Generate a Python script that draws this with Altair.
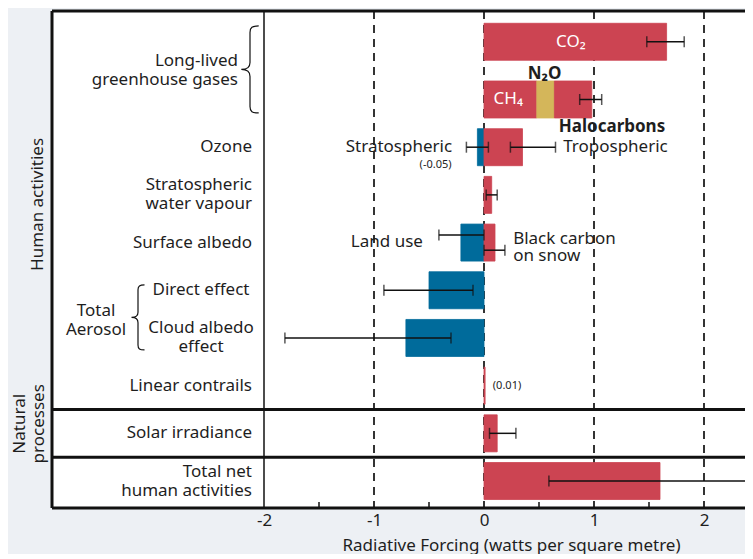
import altair as alt
import pandas as pd

# ---------------- data ----------------
# bar segments (W m-2), one entry per coloured segment
bar_row = [0, 1, 1, 1, 2, 2, 3, 4, 4, 5, 6, 7, 8, 9]
bar_name = ["CO2", "CH4", "N2O", "Halocarbons", "Stratospheric ozone",
            "Tropospheric ozone", "Stratospheric water vapour", "Land use",
            "Black carbon on snow", "Aerosol direct effect",
            "Cloud albedo effect", "Linear contrails", "Solar irradiance",
            "Total net human activities"]
bar_value = [1.66, 0.48, 0.16, 0.34, -0.06, 0.35, 0.07, -0.21, 0.10,
             -0.50, -0.71, 0.01, 0.12, 1.60]

# uncertainty ranges
err_row = [0, 1, 2, 2, 3, 4, 4, 5, 6, 8, 9]
err_lo = [1.48, 0.87, -0.16, 0.24, 0.02, -0.41, 0.00, -0.91, -1.81, 0.05, 0.59]
err_hi = [1.82, 1.07, 0.04, 0.65, 0.12, 0.00, 0.19, -0.10, -0.30, 0.29, 2.39]
err_lane = [0, 0, 0, 0, 0, -1, 1, 0, 0, 0, 0]

# row labels on the left
row_label = ["Ozone", "Stratospheric\nwater vapour", "Surface albedo",
             "Linear contrails", "Solar irradiance", "Total net\nhuman activities"]
row_label_row = [2, 3, 4, 7, 8, 9]
aerosol_label = ["Direct effect", "Cloud albedo\neffect"]
aerosol_label_row = [5, 6]

group_name = ["Human activities", "Natural\nprocesses"]
group_last_row = [7, 8]

tick_values = [-2, -1, 0, 1, 2]
minor_ticks = [-1.5, -0.5, 0.5, 1.5]

# ---------------- layout / style ----------------
W, H = 693, 497
PX = 110.0
ROWPX = 47.69
LH = 19
XMIN = -2 - 212 / PX
XMAX = XMIN + W / PX
FONT = "Noto Sans"
FS = 17
RED, BLUE, GOLD = "#cc4452", "#006b9b", "#d4b65a"
INK = "#1e1e1e"
BG = "#edf0f4"

xscale = alt.Scale(domain=[XMIN, XMAX], nice=False, zero=False, padding=0)
yscale = alt.Scale(domain=[-0.8557, 9.5657], reverse=True, nice=False, zero=False,
                   padding=0)
SHIFT = "(datum.row == 0 ? -0.21 : datum.row)"


def X(f, axis=None):
    if axis is None:
        return alt.X(f, type="quantitative", scale=xscale)
    return alt.X(f, type="quantitative", scale=xscale, axis=axis)


def Y(f="yy"):
    return alt.Y(f, type="quantitative", scale=yscale, axis=None)


# bars: stack positives and negatives from zero within each row
starts, ends, kinds = [], [], []
pos_acc, neg_acc = {}, {}
for r, n, v in zip(bar_row, bar_name, bar_value):
    if v >= 0:
        s = pos_acc.get(r, 0.0)
        pos_acc[r] = s + v
    else:
        s = neg_acc.get(r, 0.0)
        neg_acc[r] = s + v
    starts.append(s)
    ends.append(s + v)
    kinds.append("N2O" if n == "N2O" else ("neg" if v < 0 else "pos"))
bars = pd.DataFrame({"row": bar_row, "name": bar_name, "start": starts,
                     "end": ends, "kind": kinds})
errs = pd.DataFrame({"row": err_row, "lo": err_lo, "hi": err_hi, "lane": err_lane})

colour = alt.Scale(domain=["pos", "neg", "N2O"], range=[RED, BLUE, GOLD])

one = pd.DataFrame({"a": [0]})

dashed = alt.Chart(pd.DataFrame({"v": tick_values[1:]})).mark_rule(
    strokeDash=[8, 6], strokeWidth=2, color="#333333"
).encode(
    x=X("v", axis=alt.Axis(values=tick_values, domain=False, ticks=False, grid=False,
                           labelFont=FONT, labelFontSize=FS, labelColor=INK,
                           labelPadding=4, labelExpr="'' + datum.value",
                           labelFlush=False, labelOverlap=False,
                           title="Radiative Forcing (watts per square metre)",
                           titleFont=FONT, titleFontSize=FS, titleFontWeight="normal",
                           titleColor=INK, titleX=459, titleY=42,
                           titleAlign="center", titleBaseline="alphabetic")),
    y=alt.value(0), y2=alt.value(H),
)

minus2 = alt.Chart(pd.DataFrame({"v": tick_values[:1]})).mark_rule(
    strokeWidth=1.5, color="#111111"
).encode(x=X("v"), y=alt.value(0), y2=alt.value(H))

minor = alt.Chart(pd.DataFrame({"v": minor_ticks})).mark_rule(
    strokeWidth=1.5, color="#111111"
).encode(x=X("v"), y=alt.value(H - 6), y2=alt.value(H))

bar_layer = alt.Chart(bars).transform_calculate(yy=SHIFT).mark_bar(
    size=37, orient="horizontal", strokeWidth=0.8
).encode(
    x=X("start"), x2="end", y=Y(),
    color=alt.Color("kind:N", scale=colour, legend=None),
    stroke=alt.Color("kind:N", scale=colour, legend=None),
)

err_base = alt.Chart(errs).transform_calculate(
    yy=SHIFT + " + datum.lane * 0.16")
err_rule = err_base.mark_rule(strokeWidth=1.5, color="#111111").encode(
    x=X("lo"), x2="hi", y=Y())
err_caps = err_base.transform_fold(["lo", "hi"], as_=["end", "val"]).mark_tick(
    orient="vertical", size=11, thickness=1.5, color="#111111"
).encode(x=X("val"), y=Y())

frame_h = alt.Chart(pd.DataFrame({"p": [0, H]})).mark_rule(
    strokeWidth=3, color="#111111"
).encode(x=alt.value(0), x2=alt.value(W), y=alt.Y("p:Q", scale=None))
frame_l = alt.Chart(one).mark_rule(strokeWidth=3, color="#111111").encode(
    x=alt.value(0), y=alt.value(0), y2=alt.value(H))
seps = alt.Chart(pd.DataFrame({"row": group_last_row})).transform_calculate(
    yy="datum.row + 0.5").mark_rule(strokeWidth=3, color="#111111").encode(
    x=alt.value(0), x2=alt.value(W), y=Y())


def left_text(rows, texts, xpix, align):
    # multi-line texts are anchored on their first line: lift them by half a line
    df = pd.DataFrame({"row": rows, "t": texts})
    return alt.Chart(df).transform_calculate(
        yy="datum.row - (indexof(datum.t, '\\n') >= 0 ? %f : 0)" % (LH / 2 / ROWPX)
    ).mark_text(
        align=align, baseline="middle", font=FONT, fontSize=FS, color=INK,
        lineBreak="\n", lineHeight=LH
    ).encode(x=alt.value(xpix), y=Y(), text="t:N")


lab = left_text(row_label_row, row_label, 200, "right")
lab_ll = left_text([0.395], ["Long-lived\ngreenhouse gases"], 186, "right")
aer = left_text(aerosol_label_row, aerosol_label, 149, "center")
aer_total = left_text([5.63], ["Total\nAerosol"], 44, "center")

brace_path = ("M 0.2 -1 C 0.05 -1 0 -0.97 0 -0.85 L 0 -0.16 C 0 -0.05 -0.06 0 -0.2 0 "
              "C -0.06 0 0 0.05 0 0.16 L 0 0.85 C 0 0.97 0.05 1 0.2 1")
braces = alt.Chart(pd.DataFrame({"row": [0.37, 5.57], "x": [198, 86],
                                 "s": [87 ** 2, 65 ** 2]})).mark_point(
    shape=brace_path, filled=False, stroke="#111111", strokeWidth=1.2, opacity=1
).encode(x=alt.X("x:Q", scale=None), y=alt.Y("row:Q", scale=yscale, axis=None),
         size=alt.Size("s:Q", scale=None))

groups = alt.Chart(pd.DataFrame({"row": [3.2, 7.8], "t": group_name,
                                 "x": [-14.5, -32]})).mark_text(
    angle=270, align="center", baseline="middle", font=FONT, fontSize=FS,
    color=INK, lineBreak="\n", lineHeight=LH
).encode(x=alt.X("x:Q", scale=None), y=alt.Y("row:Q", scale=yscale, axis=None),
         text="t:N")


def ann(df, align, color=INK, size=FS, weight="normal"):
    return alt.Chart(pd.DataFrame(df)).transform_calculate(
        yy=SHIFT + " + datum.dy / %f" % ROWPX).mark_text(
        align=align, baseline="middle", font=FONT, fontSize=size, color=color,
        fontWeight=weight, lineBreak="\n", lineHeight=17
    ).encode(x=X("x"), y=Y(), text="t:N")


ann_white = ann({"t": ["CO\u2082", "CH\u2084"], "x": [0.79, 0.22], "row": [0, 1],
                 "dy": [0, 0]}, "center", color="white")
ann_bold_c = ann({"t": ["N\u2082O"], "x": [0.55], "row": [1], "dy": [-25]},
                 "center", weight="bold")
ann_bold_l = ann({"t": ["Halocarbons"], "x": [0.68], "row": [1], "dy": [28]},
                 "left", weight="bold")
ann_right = ann({"t": ["Stratospheric", "Land use"], "x": [-0.29, -0.555],
                 "row": [2, 4], "dy": [0, -1]}, "right")
ann_left = ann({"t": ["Tropospheric", "Black carbon\non snow"], "x": [0.72, 0.265],
                "row": [2, 4], "dy": [0, -4]}, "left")
ann_small_c = ann({"t": ["(-0.05)"], "x": [-0.44], "row": [2], "dy": [18]},
                  "center", size=11)
ann_small_l = ann({"t": ["(0.01)"], "x": [0.08], "row": [7], "dy": [0]},
                  "left", size=11)

chart = alt.layer(
    dashed, minus2, minor, bar_layer, err_rule, err_caps,
    frame_h, frame_l, seps, lab, lab_ll, aer, aer_total, braces, groups,
    ann_white, ann_bold_c, ann_bold_l, ann_right, ann_left, ann_small_c, ann_small_l,
).properties(
    width=W, height=H, background=BG,
    padding={"left": 44, "top": 3, "right": 0, "bottom": 46},
    autosize=alt.AutoSizeParams(type="none"),
).configure_view(stroke=None, fill="white")

chart.save("out.html", embed_options={"renderer": "svg", "actions": False})
